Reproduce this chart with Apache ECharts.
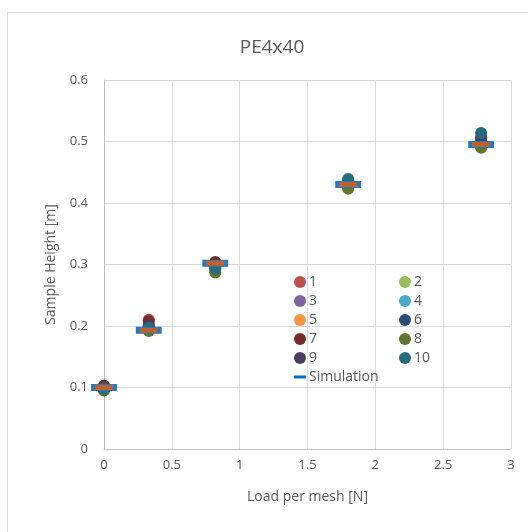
<!DOCTYPE html>
<html>
<head>
<meta charset="utf-8">
<script src="https://cdn.jsdelivr.net/npm/echarts@6/dist/echarts.min.js"></script>
<style>
  html, body { margin: 0; padding: 0; background: #fff; }
  #main { width: 528px; height: 532px; }
</style>
</head>
<body>
<div id="main"></div>
<script>
var loads = [0, 0.33, 0.82, 1.8, 2.78];
var sampleNames = ['1', '2', '3', '4', '5', '6', '7', '8', '9', '10'];
var sampleColors = ['#C0504D', '#9BBB59', '#8064A2', '#4BACC6', '#F79646',
                    '#2C4D75', '#772C2A', '#5F7530', '#4D3B62', '#276A7C'];
// measured heights per sample, one value per load
var h1  = [0.102, 0.210, 0.303, 0.430, 0.497];
var h2  = [0.097, 0.195, 0.290, 0.425, 0.492];
var h3  = [0.100, 0.200, 0.298, 0.432, 0.500];
var h4  = [0.098, 0.196, 0.294, 0.428, 0.498];
var h5  = [0.101, 0.203, 0.300, 0.430, 0.502];
var h6  = [0.099, 0.199, 0.296, 0.437, 0.505];
var h7  = [0.103, 0.208, 0.304, 0.431, 0.499];
var h8  = [0.095, 0.192, 0.287, 0.423, 0.490];
var h9  = [0.100, 0.201, 0.299, 0.434, 0.507];
var h10 = [0.098, 0.197, 0.293, 0.439, 0.514];
var simulation = [0.100, 0.193, 0.302, 0.430, 0.495];

var heights = [h1, h2, h3, h4, h5, h6, h7, h8, h9, h10];
var txt = '#595959';
var font = 'Open Sans';

var chart = echarts.init(document.getElementById('main'));

var series = heights.map(function (h, i) {
    return {
        name: sampleNames[i],
        type: 'scatter',
        symbol: 'circle',
        symbolSize: 12,
        itemStyle: { color: sampleColors[i], opacity: 1 },
        data: loads.map(function (x, j) { return [x, h[j]]; })
    };
});
series.push({
    name: 'Simulation',
    type: 'scatter',
    symbol: 'rect',
    symbolSize: [22, 6],
    itemStyle: { color: '#C0602A', borderColor: '#1F7BC5', borderWidth: 2, opacity: 1 },
    data: loads.map(function (x, j) { return [x, simulation[j]]; })
});

var legendBase = {
    orient: 'vertical',
    top: 275,
    padding: 0,
    itemWidth: 12,
    itemHeight: 12,
    itemGap: 5,
    icon: 'circle',
    textStyle: { color: txt, fontSize: 14, fontFamily: font, padding: [0, 0, 0, -2] }
};

var option = {
    animation: false,
    graphic: [{
        type: 'rect',
        shape: { x: 7.5, y: 12.5, width: 530, height: 530 },
        style: { fill: 'none', stroke: '#D9D9D9', lineWidth: 1 }
    }],
    title: {
        text: 'PE4x40',
        left: 267,
        textAlign: 'center',
        top: 33,
        textStyle: { color: txt, fontSize: 19, fontWeight: 'normal', fontFamily: font }
    },
    grid: { left: 104, right: 17, top: 80, bottom: 83 },
    legend: [
        Object.assign({}, legendBase, {
            left: 294,
            data: ['1', '3', '5', '7', '9', {
                name: 'Simulation',
                icon: 'path://M0,0 L12,0 L12,3 L0,3 Z',
                itemStyle: { color: '#0070C0', borderWidth: 0 }
            }]
        }),
        Object.assign({}, legendBase, {
            left: 399,
            data: ['2', '4', '6', '8', '10']
        })
    ],
    xAxis: {
        type: 'value',
        min: 0, max: 3, interval: 0.5,
        name: 'Load per mesh [N]',
        nameLocation: 'middle',
        nameGap: 41,
        nameTextStyle: { color: txt, fontSize: 14, fontFamily: font },
        axisLine: { show: true, lineStyle: { color: '#BFBFBF' } },
        axisTick: { show: false },
        axisLabel: { color: txt, fontSize: 13, fontFamily: font, margin: 10 },
        splitLine: { show: true, lineStyle: { color: '#D9D9D9' } }
    },
    yAxis: {
        type: 'value',
        min: 0, max: 0.6, interval: 0.1,
        name: 'Sample Height [m]',
        nameLocation: 'middle',
        nameGap: 46,
        nameTextStyle: { color: txt, fontSize: 14, fontFamily: font },
        axisLine: { show: true, lineStyle: { color: '#BFBFBF' } },
        axisTick: { show: false },
        axisLabel: {
            color: txt, fontSize: 13, fontFamily: font, margin: 16,
            formatter: function (v) { return v === 0 ? '0' : v.toFixed(1); }
        },
        splitLine: { show: true, lineStyle: { color: '#D9D9D9' } }
    },
    series: series
};

chart.setOption(option);
</script>
</body>
</html>
